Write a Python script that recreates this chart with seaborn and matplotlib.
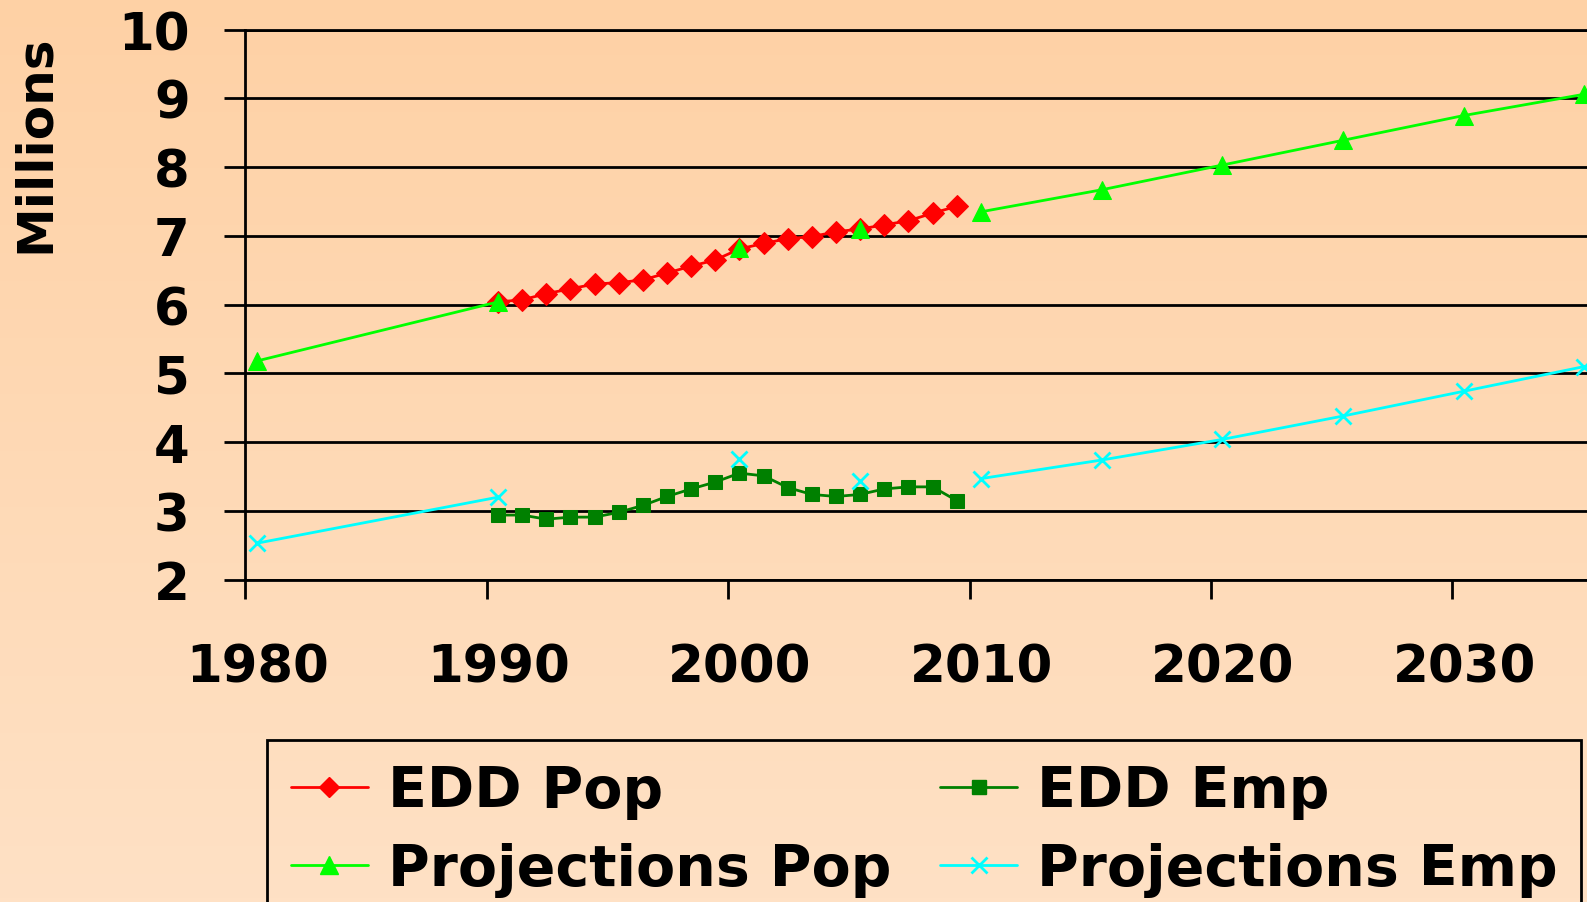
import numpy as np
import pandas as pd
import matplotlib
matplotlib.use("Agg")
import matplotlib.pyplot as plt
import matplotlib.transforms as mtransforms
from matplotlib.colors import LinearSegmentedColormap
from matplotlib.lines import Line2D
import seaborn as sns

sns.set_style("white")
plt.rcParams["font.family"] = ["DejaVu Sans"]
plt.rcParams["font.weight"] = "bold"
plt.rcParams["text.color"] = "black"
plt.rcParams["xtick.color"] = "black"
plt.rcParams["ytick.color"] = "black"
plt.rcParams["axes.labelcolor"] = "black"

# EDD yearly estimates (millions)
edd_years = list(range(1990, 2010))
edd_pop = [6.04, 6.07, 6.16, 6.23, 6.30, 6.32, 6.36, 6.46, 6.56, 6.65,
           6.81, 6.89, 6.96, 6.99, 7.06, 7.10, 7.16, 7.22, 7.33, 7.43]
edd_emp = [2.94, 2.94, 2.88, 2.91, 2.91, 2.98, 3.08, 3.21, 3.32, 3.42,
           3.55, 3.51, 3.34, 3.24, 3.21, 3.24, 3.32, 3.35, 3.35, 3.15]

# projections (millions); segment marks which points are joined by a line
proj_years = [1980, 1990, 2000, 2005, 2010, 2015, 2020, 2025, 2030, 2035]
proj_pop = [5.18, 6.04, 6.82, 7.10, 7.35, 7.67, 8.03, 8.39, 8.75, 9.06]
proj_emp = [2.53, 3.20, 3.76, 3.44, 3.47, 3.74, 4.04, 4.38, 4.74, 5.10]
proj_segment = [0, 0, 1, 2, 3, 3, 3, 3, 3, 3]

x_ticks = [1980, 1990, 2000, 2010, 2020, 2030]
y_ticks = [2, 3, 4, 5, 6, 7, 8, 9, 10]

series_labels = ["EDD Pop", "Projections Pop", "EDD Emp", "Projections Emp"]

edd = pd.DataFrame({"year": edd_years, "pop": edd_pop, "emp": edd_emp})
proj = pd.DataFrame({"year": proj_years, "pop": proj_pop, "emp": proj_emp,
                     "seg": proj_segment})
# points sit in the middle of each year
edd["x"] = edd["year"] + 0.47
proj["x"] = proj["year"] + 0.47

W, H = 1587, 903
fig = plt.figure(figsize=(W / 100, H / 100), dpi=100)

# peach gradient background
bg = fig.add_axes([0, 0, 1, 1], zorder=-5)
cmap = LinearSegmentedColormap.from_list("peach", ["#FFE1C5", "#FED1A5"])
bg.imshow(np.linspace(0, 1, 256).reshape(-1, 1), aspect="auto", cmap=cmap,
          origin="lower", extent=[0, 1, 0, 1])
bg.axis("off")

left = 245.3 / W
bottom = 1 - 580.7 / H
top = 1 - 30.6 / H
ax = fig.add_axes([left, bottom, 1 - left, top - bottom])
ax.set_facecolor("none")

red, dgreen, lime, cyan = "#FF0000", "#008000", "#00FF00", "#00FFFF"

sns.lineplot(data=edd, x="x", y="pop", ax=ax, color=red, marker="D",
             markersize=11, markeredgecolor=red, linewidth=2, legend=False)
sns.lineplot(data=edd, x="x", y="emp", ax=ax, color=dgreen, marker="s",
             markersize=10, markeredgecolor=dgreen, linewidth=2, legend=False)
sns.lineplot(data=proj, x="x", y="pop", units="seg", estimator=None, ax=ax,
             color=lime, marker="^", markersize=13, markeredgecolor=lime,
             linewidth=2, legend=False, clip_on=False)
sns.lineplot(data=proj, x="x", y="emp", units="seg", estimator=None, ax=ax,
             color=cyan, marker="x", markersize=12, markeredgecolor=cyan,
             markeredgewidth=2, linewidth=2, legend=False, clip_on=False)

ax.set_xlim(1980, 1980 + (W - 245.3) / 24.14)
ax.set_ylim(2, 10)
ax.set_xticks(x_ticks)
ax.set_yticks(y_ticks)
ax.set_xticklabels([str(t) for t in x_ticks])
ax.set_yticklabels([str(t) for t in y_ticks])
ax.set_xlabel("")
ax.set_ylabel("")
ax.grid(axis="y", color="black", linewidth=2.0)
ax.grid(axis="x", visible=False)
ax.tick_params(axis="y", direction="out", length=15, width=2.0, pad=25,
               labelsize=37, left=True, colors="black")
ax.tick_params(axis="x", direction="out", length=14, width=2.0, pad=31,
               labelsize=37, bottom=True, colors="black")
for lab in ax.get_xticklabels() + ax.get_yticklabels():
    lab.set_fontweight("bold")
shift = mtransforms.ScaledTranslation(0.12, 0, fig.dpi_scale_trans)
for lab in ax.get_xticklabels():
    lab.set_transform(lab.get_transform() + shift)

for side in ["left", "bottom", "top"]:
    ax.spines[side].set_visible(True)
    ax.spines[side].set_color("black")
    ax.spines[side].set_linewidth(2.0)
ax.spines["right"].set_visible(False)

fig.text(35 / W, 1 - 144 / H, "Millions", rotation=90, ha="center",
         va="center", fontsize=36, fontweight="bold", color="black")

handles = [
    Line2D([], [], color=red, marker="D", markersize=10, lw=2),
    Line2D([], [], color=lime, marker="^", markersize=13, lw=2),
    Line2D([], [], color=dgreen, marker="s", markersize=10, lw=2),
    Line2D([], [], color=cyan, marker="x", markersize=12, mew=2, lw=2),
]
leg = fig.legend(handles, series_labels, loc="upper left",
                 bbox_to_anchor=(267 / W, 1 - 741 / H), ncol=2,
                 frameon=True, fancybox=False, edgecolor="black",
                 facecolor="none", framealpha=1, borderaxespad=0,
                 borderpad=0.42, handlelength=1.35, handletextpad=0.35,
                 columnspacing=0.86, labelspacing=0.41,
                 prop={"size": 41, "weight": "bold"})
leg.get_frame().set_linewidth(2.0)
for t in leg.get_texts():
    t.set_color("black")

fig.savefig("out.png", dpi=100)
